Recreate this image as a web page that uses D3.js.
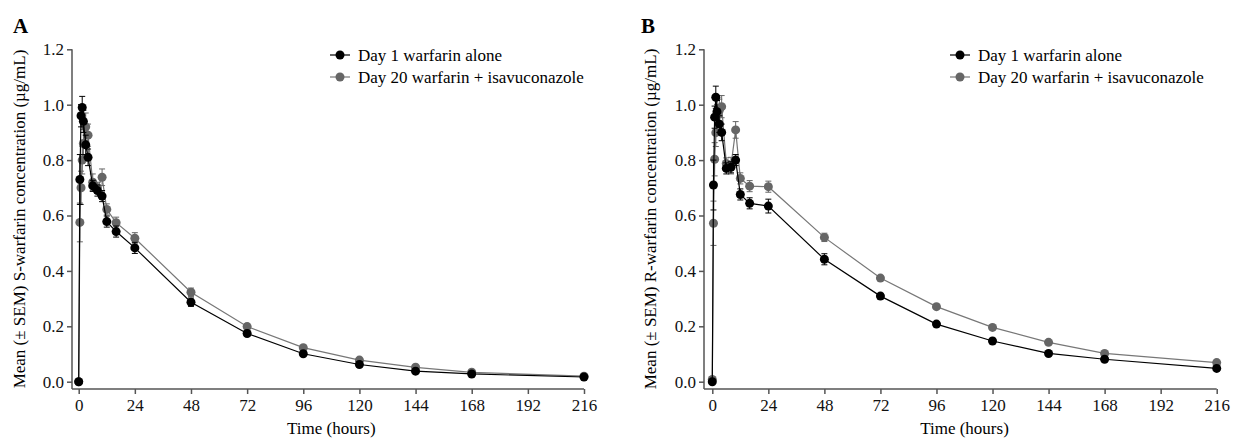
<!DOCTYPE html>
<html>
<head>
<meta charset="utf-8">
<script src="https://cdn.jsdelivr.net/npm/d3@7"></script>
<style>
  body { margin: 0; background: #fff; }
  svg { display: block; font-family: "Liberation Serif", "Times New Roman", serif; }
</style>
</head>
<body>
<div id="chart"></div>
<script>
// sampling times (hours)
const times = [0, 0.5, 1, 1.5, 2, 3, 4, 6, 8, 10, 12, 16, 24, 48, 72, 96, 120, 144, 168, 216];

// S-warfarin (panel A)
const sDay1 = [0, 0.73, 0.96, 0.99, 0.94, 0.855, 0.81, 0.707, 0.69, 0.67, 0.578, 0.542, 0.483, 0.287, 0.174, 0.101, 0.062, 0.038, 0.028, 0.017];
const sDay1Sem = [0, 0.09, 0.04, 0.04, 0.04, 0.035, 0.03, 0.02, 0.02, 0.02, 0.02, 0.02, 0.02, 0.015, 0.01, 0.006, 0.004, 0.003, 0.002, 0.002];
const sDay20 = [0, 0.575, 0.70, 0.80, 0.86, 0.92, 0.89, 0.72, 0.70, 0.738, 0.622, 0.574, 0.518, 0.323, 0.199, 0.123, 0.078, 0.052, 0.034, 0.02];
const sDay20Sem = [0, 0.07, 0.06, 0.05, 0.05, 0.05, 0.04, 0.03, 0.02, 0.03, 0.02, 0.02, 0.02, 0.015, 0.01, 0.006, 0.005, 0.004, 0.003, 0.002];

// R-warfarin (panel B)
const rDay1 = [0, 0.71, 0.955, 1.027, 0.975, 0.93, 0.90, 0.77, 0.774, 0.80, 0.676, 0.644, 0.634, 0.442, 0.309, 0.208, 0.147, 0.102, 0.081, 0.048];
const rDay1Sem = [0.005, 0.09, 0.04, 0.04, 0.04, 0.03, 0.03, 0.02, 0.02, 0.02, 0.02, 0.02, 0.025, 0.02, 0.01, 0.006, 0.005, 0.004, 0.003, 0.003];
const rDay20 = [0.008, 0.572, 0.803, 0.899, 0.96, 0.98, 0.993, 0.788, 0.78, 0.909, 0.734, 0.706, 0.704, 0.521, 0.374, 0.271, 0.196, 0.142, 0.102, 0.069];
const rDay20Sem = [0.01, 0.08, 0.06, 0.05, 0.04, 0.04, 0.04, 0.02, 0.03, 0.03, 0.02, 0.02, 0.02, 0.015, 0.008, 0.006, 0.005, 0.004, 0.003, 0.003];

const xTicks = [0, 24, 48, 72, 96, 120, 144, 168, 192, 216];
const yTicks = [0, 0.2, 0.4, 0.6, 0.8, 1.0, 1.2];
const seriesNames = ["Day 1 warfarin alone", "Day 20 warfarin + isavuconazole"];

const width = 1234, height = 440;
const axisColor = "#555";
const black = "#000";
const grey = "#666";
const serif = "Liberation Serif";

const svg = d3.select("#chart").append("svg")
  .attr("width", width)
  .attr("height", height);

function drawPanel(p) {
  const x = d3.scaleLinear().domain([0, 216]).range([p.x0, p.x1]);
  const y = d3.scaleLinear().domain([0, 1.2]).range([381.7, 49.3]);
  const g = svg.append("g");

  // panel letter
  g.append("text")
    .attr("x", p.letterX).attr("y", 33)
    .attr("font-size", "21px").attr("font-weight", "bold")
    .text(p.letter);

  // y axis (offset left of x = 0)
  const yAxis = g.append("g")
    .attr("transform", `translate(${p.axisX},0)`)
    .call(d3.axisLeft(y).tickValues(yTicks).tickFormat(d3.format(".1f")).tickSize(5).tickPadding(3).tickSizeOuter(0))
    .attr("font-family", serif).attr("font-size", 17);
  yAxis.select(".domain").attr("stroke", axisColor).attr("stroke-width", 1.5)
    .attr("d", `M0,${y(1.2)}V389`);
  yAxis.selectAll(".tick line").attr("stroke", axisColor).attr("stroke-width", 1.5);
  yAxis.selectAll(".tick text").attr("fill", "#111");

  // x axis (offset below y = 0)
  const xAxis = g.append("g")
    .attr("transform", "translate(0,389)")
    .call(d3.axisBottom(x).tickValues(xTicks).tickSize(5).tickPadding(5).tickSizeOuter(0))
    .attr("font-family", serif).attr("font-size", 17);
  xAxis.select(".domain").attr("stroke", axisColor).attr("stroke-width", 1.5)
    .attr("d", `M${p.axisX},0H${x(216)}`);
  xAxis.selectAll(".tick line").attr("stroke", axisColor).attr("stroke-width", 1.5);
  xAxis.selectAll(".tick text").attr("fill", "#111");

  // axis titles
  g.append("text")
    .attr("x", (x(0) + x(216)) / 2).attr("y", 434)
    .attr("text-anchor", "middle").attr("font-size", "17px")
    .text("Time (hours)");
  g.append("text")
    .attr("transform", `translate(${p.titleX},${(49 + 389) / 2}) rotate(-90)`)
    .attr("text-anchor", "middle").attr("font-size", "17px")
    .text(p.yTitle);

  const line = d3.line().x(d => x(d.t)).y(d => y(d.v));

  // grey (day 20) first, black (day 1) on top
  const series = [
    { vals: p.day20, sem: p.day20Sem, color: grey, lineColor: "#777" },
    { vals: p.day1, sem: p.day1Sem, color: black, lineColor: black }
  ];

  series.forEach(s => {
    const pts = times.map((t, i) => ({ t, v: s.vals[i], e: s.sem[i] }));
    g.append("path")
      .datum(pts)
      .attr("fill", "none")
      .attr("stroke", s.lineColor)
      .attr("stroke-width", 1.2)
      .attr("d", line);

    const eb = g.append("g").attr("stroke", s.color).attr("stroke-width", 1);
    pts.filter(d => d.e > 0).forEach(d => {
      const cx = x(d.t);
      eb.append("line").attr("x1", cx).attr("x2", cx).attr("y1", y(d.v - d.e)).attr("y2", y(d.v + d.e));
      eb.append("line").attr("x1", cx - 3).attr("x2", cx + 3).attr("y1", y(d.v + d.e)).attr("y2", y(d.v + d.e));
      eb.append("line").attr("x1", cx - 3).attr("x2", cx + 3).attr("y1", y(d.v - d.e)).attr("y2", y(d.v - d.e));
    });

    g.append("g").selectAll("circle")
      .data(pts)
      .join("circle")
      .attr("cx", d => x(d.t))
      .attr("cy", d => y(d.v))
      .attr("r", 4.5)
      .attr("fill", s.color);
  });

  // legend
  const leg = g.append("g").attr("transform", `translate(${p.legendX},0)`);
  seriesNames.forEach((name, i) => {
    const ly = 55 + i * 22;
    const c = i === 0 ? black : grey;
    leg.append("line").attr("x1", -10).attr("x2", 10).attr("y1", ly).attr("y2", ly)
      .attr("stroke", i === 0 ? black : "#777").attr("stroke-width", 1.2);
    leg.append("circle").attr("cx", 0).attr("cy", ly).attr("r", 4.5).attr("fill", c);
    leg.append("text").attr("x", 18).attr("y", ly + 5.5)
      .attr("font-size", "17px").text(name);
  });
}

drawPanel({
  letter: "A", letterX: 13, axisX: 72, x0: 78.7, x1: 584, titleX: 25, legendX: 340,
  yTitle: "Mean (\u00b1 SEM) S-warfarin concentration (\u00b5g/mL)",
  day1: sDay1, day1Sem: sDay1Sem, day20: sDay20, day20Sem: sDay20Sem
});

drawPanel({
  letter: "B", letterX: 641, axisX: 704, x0: 712.3, x1: 1216.7, titleX: 656, legendX: 960,
  yTitle: "Mean (\u00b1 SEM) R-warfarin concentration (\u00b5g/mL)",
  day1: rDay1, day1Sem: rDay1Sem, day20: rDay20, day20Sem: rDay20Sem
});
</script>
</body>
</html>
